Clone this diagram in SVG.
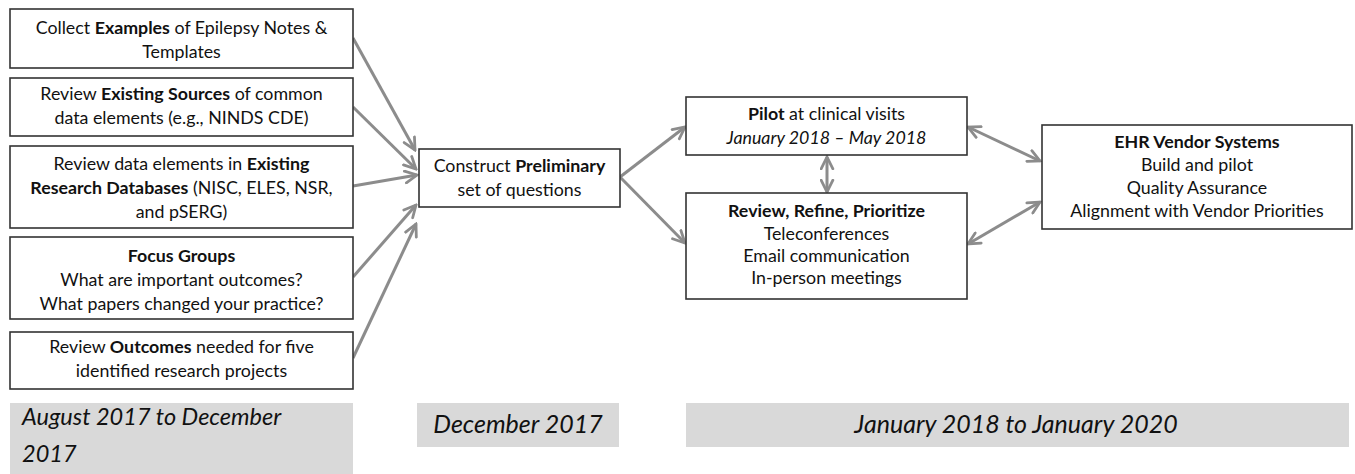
<svg xmlns="http://www.w3.org/2000/svg" width="1355" height="474" viewBox="0 0 1355 474">
<style>
.box{fill:#fff;stroke:#333;stroke-width:1.6}
.band{fill:#d9d9d9;stroke:none}
.t{font-family:Lato,"Liberation Sans",sans-serif;font-size:17.8px;fill:#111;text-anchor:middle}
.b{font-weight:bold}
.i{font-style:italic}
.d{font-family:Lato,"Liberation Sans",sans-serif;font-style:italic;fill:#111}
.c{fill:none;stroke:#8c8c8c;stroke-width:3}
</style>
<defs>
<marker id="ah" viewBox="0 0 14 14" refX="12.5" refY="7" markerWidth="15" markerHeight="15" markerUnits="userSpaceOnUse" orient="auto-start-reverse">
<path d="M1.5,1.5 L12.5,7 L1.5,12.5" fill="none" stroke="#8c8c8c" stroke-width="2.6" stroke-linecap="round" stroke-linejoin="miter"/>
</marker>
</defs>
<rect width="1355" height="474" fill="#fff"/>
<g id="connectors">
<line class="c" x1="353" y1="38" x2="415" y2="150" marker-end="url(#ah)"/>
<line class="c" x1="353" y1="107" x2="416" y2="169" marker-end="url(#ah)"/>
<line class="c" x1="353" y1="186" x2="417" y2="175" marker-end="url(#ah)"/>
<line class="c" x1="353" y1="277" x2="416" y2="205" marker-end="url(#ah)"/>
<line class="c" x1="353" y1="358" x2="416" y2="224" marker-end="url(#ah)"/>
<line class="c" x1="620" y1="177" x2="685" y2="127" marker-end="url(#ah)"/>
<line class="c" x1="620" y1="177" x2="685" y2="243" marker-end="url(#ah)"/>
<line class="c" x1="827" y1="157" x2="827" y2="192" marker-start="url(#ah)" marker-end="url(#ah)"/>
<line class="c" x1="968" y1="127" x2="1040" y2="161" marker-start="url(#ah)" marker-end="url(#ah)"/>
<line class="c" x1="968" y1="244" x2="1040" y2="202" marker-start="url(#ah)" marker-end="url(#ah)"/>
</g>
<g id="n1">
<rect class="box" x="10" y="9" width="343" height="59"/>
<text class="t" x="181.5" y="34">Collect <tspan class="b">Examples</tspan> of Epilepsy Notes &amp;</text>
<text class="t" x="181.5" y="58">Templates</text>
</g>
<g id="n2">
<rect class="box" x="10" y="78" width="343" height="58"/>
<text class="t" x="181.5" y="100">Review <tspan class="b">Existing Sources</tspan> of common</text>
<text class="t" x="181.5" y="124">data elements (e.g., NINDS CDE)</text>
</g>
<g id="n3">
<rect class="box" x="10" y="146" width="343" height="82"/>
<text class="t" x="181.5" y="170">Review data elements in <tspan class="b">Existing</tspan></text>
<text class="t" x="181.5" y="194"><tspan class="b">Research Databases</tspan> (NISC, ELES, NSR,</text>
<text class="t" x="181.5" y="218">and pSERG)</text>
</g>
<g id="n4">
<rect class="box" x="10" y="237" width="343" height="82"/>
<text class="t b" x="181.5" y="262">Focus Groups</text>
<text class="t" x="181.5" y="286">What are important outcomes?</text>
<text class="t" x="181.5" y="310">What papers changed your practice?</text>
</g>
<g id="n5">
<rect class="box" x="10" y="332" width="343" height="57"/>
<text class="t" x="181.5" y="353">Review <tspan class="b">Outcomes</tspan> needed for five</text>
<text class="t" x="181.5" y="377">identified research projects</text>
</g>
<g id="n6">
<rect class="box" x="419" y="149" width="201" height="58"/>
<text class="t" x="519.5" y="172">Construct <tspan class="b">Preliminary</tspan></text>
<text class="t" x="519.5" y="196">set of questions</text>
</g>
<g id="n7">
<rect class="box" x="686" y="97" width="281" height="58"/>
<text class="t" x="826.5" y="120"><tspan class="b">Pilot</tspan> at clinical visits</text>
<text class="t i" x="826.5" y="144">January 2018 – May 2018</text>
</g>
<g id="n8">
<rect class="box" x="686" y="193" width="281" height="106"/>
<text class="t b" x="826.5" y="217">Review, Refine, Prioritize</text>
<text class="t" x="826.5" y="240">Teleconferences</text>
<text class="t" x="826.5" y="262">Email communication</text>
<text class="t" x="826.5" y="284">In-person meetings</text>
</g>
<g id="n9">
<rect class="box" x="1042" y="125" width="310" height="104"/>
<text class="t b" x="1197" y="148">EHR Vendor Systems</text>
<text class="t" x="1197" y="171">Build and pilot</text>
<text class="t" x="1197" y="194">Quality Assurance</text>
<text class="t" x="1197" y="217">Alignment with Vendor Priorities</text>
</g>
<g id="band1">
<rect class="band" x="10" y="403" width="343" height="75"/>
<text class="d" x="22" y="425" font-size="23.5">August 2017 to December</text>
<text class="d" x="22" y="462" font-size="23.5">2017</text>
</g>
<g id="band2">
<rect class="band" x="417" y="403" width="202" height="44"/>
<text class="d" x="518" y="433" font-size="25" text-anchor="middle">December 2017</text>
</g>
<g id="band3">
<rect class="band" x="686" y="403" width="663" height="44"/>
<text class="d" x="1016" y="433" font-size="25" text-anchor="middle">January 2018 to January 2020</text>
</g>
</svg>
